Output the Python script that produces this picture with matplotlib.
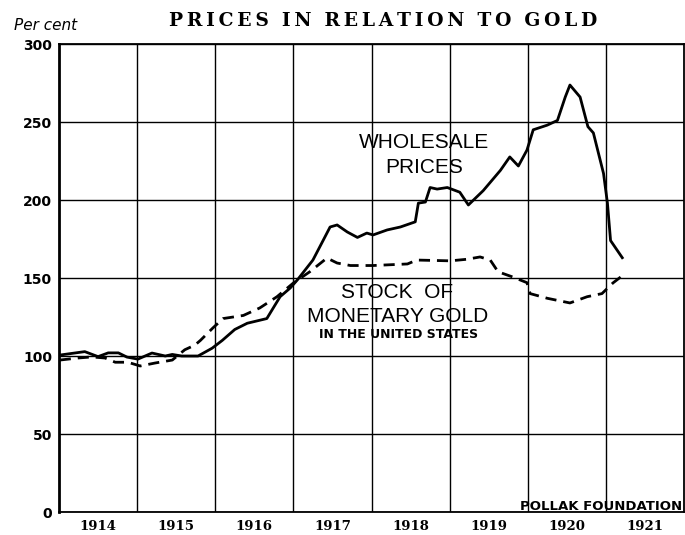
import matplotlib
matplotlib.use("Agg")
import matplotlib.pyplot as plt

# Wholesale prices (per cent, 1913 = 100)
wholesale_x = [1914.01, 1914.33, 1914.50, 1914.63, 1914.76, 1914.87, 1915.01, 1915.19,
               1915.36, 1915.45, 1915.57, 1915.78, 1915.96, 1916.09, 1916.25, 1916.41,
               1916.66, 1916.83, 1916.96, 1917.05, 1917.25, 1917.38, 1917.47, 1917.56,
               1917.69, 1917.82, 1917.94, 1918.02, 1918.20, 1918.37, 1918.56, 1918.60,
               1918.69, 1918.75, 1918.84, 1918.97, 1919.13, 1919.24, 1919.43, 1919.65,
               1919.77, 1919.88, 1919.99, 1920.07, 1920.25, 1920.38, 1920.48, 1920.54,
               1920.67, 1920.77, 1920.84, 1920.97, 1921.02, 1921.06, 1921.21]
wholesale_y = [100.6, 102.8, 99.6, 102.0, 102.0, 99.3, 98.0, 101.9,
               100.0, 101.0, 100.0, 100.0, 105.0, 110.0, 117.0, 121.0,
               124.0, 138.0, 143.6, 148.7, 161.5, 174.0, 182.7, 184.0,
               179.5, 176.0, 178.8, 177.6, 180.8, 182.7, 186.0, 198.0,
               198.7, 208.0, 207.0, 208.0, 205.0, 196.8, 206.0, 219.0,
               227.6, 221.8, 232.0, 245.0, 248.0, 251.0, 266.0, 273.7,
               266.0, 247.0, 243.0, 217.0, 198.0, 174.0, 163.0]

# Stock of monetary gold in the United States
gold_x = [1914.01, 1914.24, 1914.42, 1914.59, 1914.72, 1914.88, 1915.04, 1915.23,
          1915.45, 1915.61, 1915.74, 1915.81, 1915.97, 1916.10, 1916.36, 1916.57,
          1916.79, 1917.00, 1917.21, 1917.43, 1917.56, 1917.73, 1918.02, 1918.46,
          1918.58, 1919.01, 1919.22, 1919.39, 1919.52, 1919.62, 1919.81, 1919.99,
          1920.03, 1920.25, 1920.54, 1920.76, 1920.95, 1921.09, 1921.25]
gold_y = [97.4, 98.7, 99.4, 98.7, 96.0, 96.0, 93.6, 95.5,
          97.4, 104.0, 107.0, 110.0, 118.0, 124.0, 126.0, 130.8,
          138.0, 146.8, 154.0, 162.8, 159.6, 158.0, 158.0, 159.0,
          161.5, 161.0, 162.0, 163.5, 161.5, 154.0, 150.6, 147.0,
          140.0, 137.0, 134.0, 138.0, 140.0, 146.8, 153.0]

years = [1914, 1915, 1916, 1917, 1918, 1919, 1920, 1921]
y_ticks = [0, 50, 100, 150, 200, 250, 300]

fig = plt.figure(figsize=(6.85, 5.35), dpi=100)
ax = fig.add_axes([59 / 685, 1 - 512 / 535, 625 / 685, 468 / 535])

ax.plot(wholesale_x, wholesale_y, color="black", lw=2.0, solid_joinstyle="round")
ax.plot(gold_x, gold_y, color="black", lw=2.0, dashes=(4, 2.5))

ax.set_xlim(1914, 1922)
ax.set_ylim(0, 300)

# year bands: grid lines at year boundaries, labels in the middle
ax.set_xticks(years[1:])
ax.set_xticklabels([])
ax.set_xticks([y + 0.5 for y in years], minor=True)
ax.set_xticklabels([str(y) for y in years], minor=True,
                   fontfamily="DejaVu Serif", fontweight="bold", fontsize=9.5)
ax.tick_params(axis="x", which="both", length=0, pad=6)

ax.set_yticks(y_ticks)
ax.set_yticklabels([str(v) for v in y_ticks],
                   fontfamily="DejaVu Sans", fontweight="bold", fontsize=10)
ax.tick_params(axis="y", length=0, pad=5)

ax.grid(True, which="major", color="black", lw=1.0)
for side in ax.spines:
    ax.spines[side].set_linewidth(1.3)
ax.spines["left"].set_linewidth(2.0)

ax.text(1918.67, 237, "WHOLESALE", ha="center", va="center", fontsize=15,
        fontfamily="Liberation Sans")
ax.text(1918.67, 221, "PRICES", ha="center", va="center", fontsize=15,
        fontfamily="Liberation Sans")
ax.text(1918.33, 140.5, "STOCK  OF", ha="center", va="center", fontsize=15,
        fontfamily="Liberation Sans")
ax.text(1918.33, 125.5, "MONETARY GOLD", ha="center", va="center", fontsize=15,
        fontfamily="Liberation Sans")
ax.text(1918.35, 113.5, "IN THE UNITED STATES", ha="center", va="center", fontsize=9,
        fontfamily="DejaVu Sans", fontweight="bold")
ax.text(1921.98, 1.0, "POLLAK FOUNDATION", ha="right", va="baseline", fontsize=9.5,
        fontfamily="DejaVu Sans", fontweight="bold")

fig.text(0.56, 0.961, "P R I C E S   I N   R E L A T I O N   T O   G O L D".replace(" ", "\u2009").replace("\u2009\u2009\u2009", "  "),
         ha="center", va="center", fontsize=13.5, fontfamily="DejaVu Serif",
         fontweight="bold")
fig.text(0.066, 0.953, "Per cent", ha="center", va="center", fontsize=11,
         fontfamily="DejaVu Sans", style="italic")

fig.savefig("out.png", dpi=100)
